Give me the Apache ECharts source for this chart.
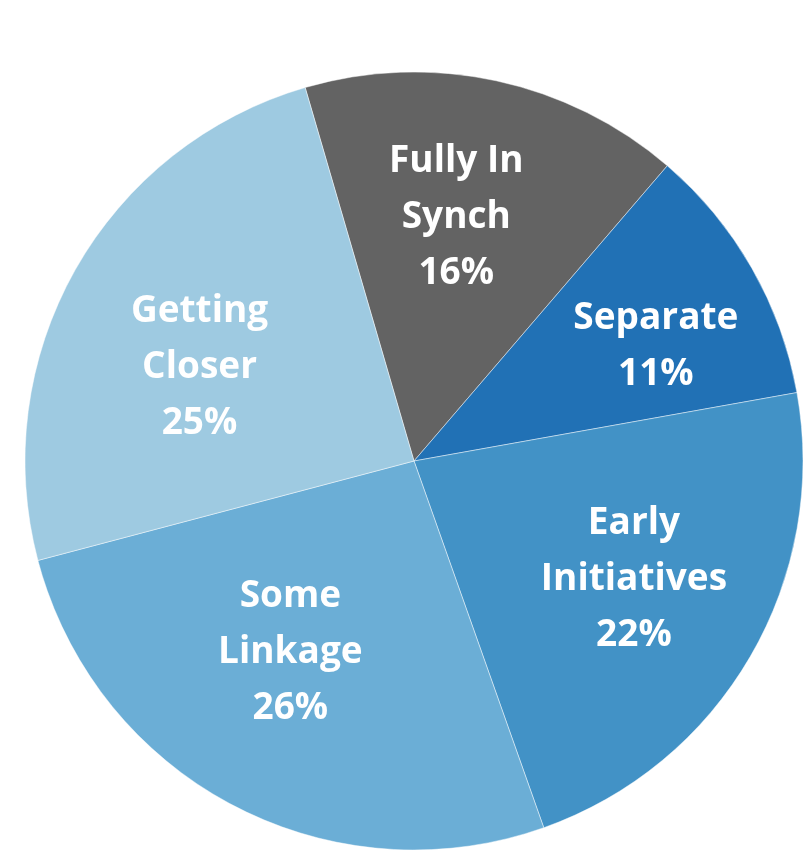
<!DOCTYPE html>
<html>
<head>
<meta charset="utf-8">
<script src="https://cdn.jsdelivr.net/npm/echarts@6/dist/echarts.min.js"></script>
<style>html,body{margin:0;padding:0;background:#fff}#c{width:807px;height:857px}</style>
</head>
<body>
<div id="c"></div>
<script>
const categories = ["Fully In Synch", "Separate", "Early Initiatives", "Some Linkage", "Getting Closer"];
const labelNames = ["Fully In\nSynch", "Separate", "Early\nInitiatives", "Some\nLinkage", "Getting\nCloser"];
const values = [15.8, 10.9, 22.4, 26.3, 24.6];
const colors = ["#636363", "#2171b5", "#4292c6", "#6baed6", "#9ecae1"];
const labelOffsets = [[-10, -2], [27, 8], [6, -6], [-8, -27], [1, 28]];

const chart = echarts.init(document.getElementById('c'));
const pieData = categories.map((c, i) => ({ name: c, value: values[i], itemStyle: { color: colors[i] } }));
const labelData = categories.map((c, i) => ({ name: labelNames[i], value: values[i], label: { offset: labelOffsets[i] } }));
chart.setOption({
  animation: false,
  series: [
    {
      type: 'pie',
      center: [414, 461],
      radius: [0, 389],
      startAngle: 106.25,
      clockwise: true,
      silent: true,
      label: { show: false },
      labelLine: { show: false },
      itemStyle: { borderColor: 'rgba(255,255,255,0.45)', borderWidth: 1 },
      data: pieData
    },
    {
      type: 'pie',
      center: [414, 461],
      radius: [100, 389],
      startAngle: 106.25,
      clockwise: true,
      silent: true,
      itemStyle: { color: 'rgba(0,0,0,0)' },
      labelLine: { show: false },
      label: {
        show: true,
        position: 'inside',
        formatter: p => p.name + '\n' + Math.round(p.value) + '%',
        color: '#ffffff',
        fontFamily: 'Open Sans',
        fontWeight: 'bold',
        fontSize: 37,
        lineHeight: 56,
        align: 'center'
      },
      data: labelData
    }
  ]
});
</script>
</body>
</html>
